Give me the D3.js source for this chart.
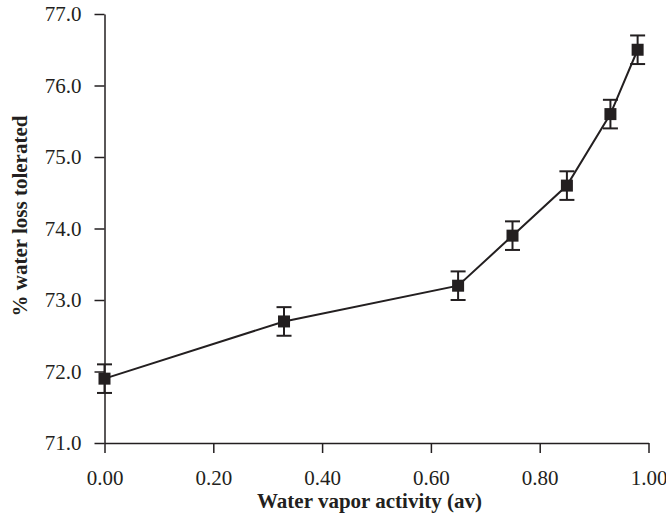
<!DOCTYPE html>
<html>
<head>
<meta charset="utf-8">
<script src="https://cdn.jsdelivr.net/npm/d3@7"></script>
<style>
  body { margin: 0; background: #fff; }
  svg { display: block; }
</style>
</head>
<body>
<div id="chart"></div>
<script>
// water vapor activity vs % water loss tolerated
var activity = [0.00, 0.33, 0.65, 0.75, 0.85, 0.93, 0.98];
var waterLoss = [71.9, 72.7, 73.2, 73.9, 74.6, 75.6, 76.5];
var errorBar = [0.2, 0.2, 0.2, 0.2, 0.2, 0.2, 0.2];
var xTicks = [0, 0.2, 0.4, 0.6, 0.8, 1.0];
var yTicks = [71, 72, 73, 74, 75, 76, 77];

var W = 666, H = 521;
var margin = {top: 14, right: 17.5, bottom: 78, left: 104.5};
var ink = "#231f20";
var serif = "'Liberation Serif', 'Times New Roman', serif";

var svg = d3.select("#chart").append("svg")
    .attr("width", W).attr("height", H);

var x = d3.scaleLinear().domain([0, 1]).range([margin.left, W - margin.right]);
var y = d3.scaleLinear().domain([71, 77]).range([H - margin.bottom, margin.top]);

var points = activity.map(function(a, i){
  return {x: a, y: waterLoss[i], e: errorBar[i]};
});

// axes
var xAxis = svg.append("g")
    .attr("transform", "translate(0," + y(71) + ")")
    .call(d3.axisBottom(x).tickValues(xTicks).tickFormat(d3.format(".2f"))
      .tickSize(10).tickSizeOuter(0).tickPadding(17));
var yAxis = svg.append("g")
    .attr("transform", "translate(" + x(0) + ",0)")
    .call(d3.axisLeft(y).tickValues(yTicks).tickFormat(d3.format(".1f"))
      .tickSize(10).tickSizeOuter(0).tickPadding(13));

[xAxis, yAxis].forEach(function(g){
  g.selectAll("path, line").attr("stroke", ink).attr("stroke-width", 1.5);
  g.selectAll("text")
    .style("font-family", serif)
    .style("font-size", "21px")
    .attr("fill", ink);
});

// line
var line = d3.line().x(function(d){ return x(d.x); }).y(function(d){ return y(d.y); });
svg.append("path")
    .datum(points)
    .attr("d", line)
    .attr("fill", "none")
    .attr("stroke", ink)
    .attr("stroke-width", 2);

// error bars
var cap = 7.5;
var eb = svg.append("g").attr("stroke", ink).attr("stroke-width", 2);
eb.selectAll("line.v").data(points).enter().append("line")
    .attr("x1", function(d){ return x(d.x); }).attr("x2", function(d){ return x(d.x); })
    .attr("y1", function(d){ return y(d.y - d.e); }).attr("y2", function(d){ return y(d.y + d.e); });
eb.selectAll("line.top").data(points).enter().append("line")
    .attr("x1", function(d){ return x(d.x) - cap; }).attr("x2", function(d){ return x(d.x) + cap; })
    .attr("y1", function(d){ return y(d.y + d.e); }).attr("y2", function(d){ return y(d.y + d.e); });
eb.selectAll("line.bot").data(points).enter().append("line")
    .attr("x1", function(d){ return x(d.x) - cap; }).attr("x2", function(d){ return x(d.x) + cap; })
    .attr("y1", function(d){ return y(d.y - d.e); }).attr("y2", function(d){ return y(d.y - d.e); });

// square markers
var sq = 12;
svg.append("g").selectAll("rect").data(points).enter().append("rect")
    .attr("x", function(d){ return x(d.x) - sq / 2; })
    .attr("y", function(d){ return y(d.y) - sq / 2; })
    .attr("width", sq).attr("height", sq)
    .attr("fill", ink);

// titles
svg.append("text")
    .attr("x", (x(0) + x(1)) / 2 - 7)
    .attr("y", 508)
    .attr("text-anchor", "middle")
    .style("font-family", serif)
    .style("font-size", "21px")
    .style("font-weight", "bold")
    .attr("fill", ink)
    .text("Water vapor activity (av)");

svg.append("text")
    .attr("transform", "translate(27,216) rotate(-90)")
    .attr("text-anchor", "middle")
    .style("font-family", serif)
    .style("font-size", "21px")
    .style("font-weight", "bold")
    .attr("fill", ink)
    .text("% water loss tolerated");
</script>
</body>
</html>
